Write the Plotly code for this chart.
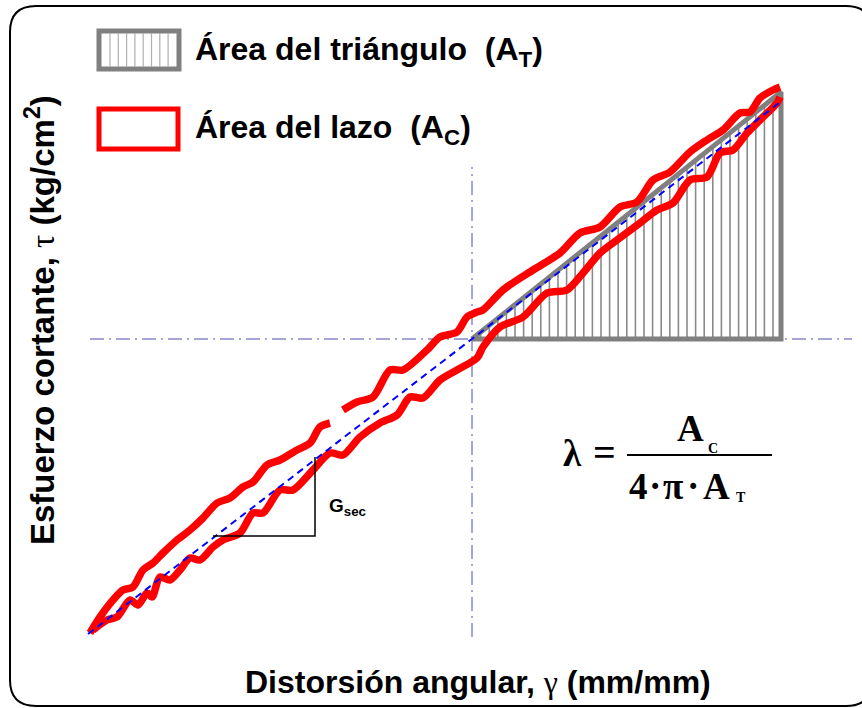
import plotly.graph_objects as go

# ---- data (units: arbitrary, origin at axes crossing) ----
upper_gamma = [-382, -372, -359, -349, -339, -329, -319, -309, -295, -282, -269, -255, -242, -229, -219,
               -205, -192, -175, -162, -152, -142, None,
               -129, -115, -99, -82, -69, -45, -32, -15, -5, 5, 11, 31, 61, 88, 108, 128, 148, 165,
               181, 198, 218, 235, 251, 268, 278, 288, 301, 308]
upper_tau = [-294, -278, -261, -251, -248, -231, -224, -214, -201, -191, -179, -164, -159, -148, -143,
             -126, -121, -111, -104, -88, -84, None,
             -71, -63, -58, -31, -31, -11, 2, 7, 22, 27, 29, 49, 69, 86, 106, 112, 132, 137,
             159, 167, 187, 199, 209, 226, 227, 241, 249, 252]
lower_gamma = [308, 305, 288, 275, 261, 248, 235, 218, 201, 185, 168, 145, 128, 111, 95, 75, 51, 28, 11, 5,
               -15, -32, -49, -62, -75, -92, -112, -129, -142, -159, -179, -192, -209, -219, -232, -249,
               -259, -272, -282, -292, -302, -312, -320, -325, -334, -342, -355, -365, -379]
lower_tau = [242, 236, 219, 206, 189, 186, 162, 159, 136, 129, 116, 99, 86, 66, 49, 46, 22, 12, -8, -19,
             -31, -41, -59, -58, -76, -84, -98, -116, -114, -131, -151, -151, -174, -174, -194, -201,
             -208, -221, -219, -231, -241, -238, -258, -254, -266, -261, -278, -281, -291]

tri_gamma = [0, 309, 309, 0]
tri_tau = [0, 247, 0, 0]
hatch_step = 8.6

secant_gamma = [-384, 307]
secant_tau = [-295, 236]

axis_v_tau = [-298, 172]
axis_h_gamma = [-382, 380]

gsec_gamma = [-259, -157, -157]
gsec_tau = [-197, -197, -118]

W, H = 862, 708
X0, Y0 = 472, 339  # pixel position of origin


def px(x):
    return x - X0


def py(y):
    return Y0 - y


fig = go.Figure()

# hatch lines inside the triangle
hx, hy = [], []
slope = tri_tau[1] / tri_gamma[1]
g = hatch_step
while g < tri_gamma[1] - 2:
    hx += [g, g, None]
    hy += [0, slope * g, None]
    g += hatch_step
fig.add_trace(go.Scatter(x=hx, y=hy, mode="lines", line=dict(color="#8a8a8a", width=1.6),
                         hoverinfo="skip", showlegend=False))

# dash-dot axes
fig.add_trace(go.Scatter(x=[0, 0], y=axis_v_tau, mode="lines",
                         line=dict(color="#4b4bb0", width=1, dash="14px,5px,2px,5px"),
                         hoverinfo="skip", showlegend=False))
fig.add_trace(go.Scatter(x=axis_h_gamma, y=[0, 0], mode="lines",
                         line=dict(color="#4b4bb0", width=1, dash="14px,5px,2px,5px"),
                         hoverinfo="skip", showlegend=False))

# triangle outline
fig.add_trace(go.Scatter(x=tri_gamma, y=tri_tau, mode="lines",
                         line=dict(color="#808080", width=5), hoverinfo="skip", showlegend=False))

# loop
fig.add_trace(go.Scatter(x=upper_gamma, y=upper_tau, mode="lines",
                         line=dict(color="#ff0000", width=7.5, shape="spline", smoothing=0.8),
                         connectgaps=False, hoverinfo="skip", showlegend=False))
fig.add_trace(go.Scatter(x=lower_gamma, y=lower_tau, mode="lines",
                         line=dict(color="#ff0000", width=7.5, shape="spline", smoothing=0.8),
                         hoverinfo="skip", showlegend=False))

# secant line
fig.add_trace(go.Scatter(x=secant_gamma, y=secant_tau, mode="lines",
                         line=dict(color="#0000ff", width=2, dash="7px,5px"),
                         hoverinfo="skip", showlegend=False))

# G_sec triangle
fig.add_trace(go.Scatter(x=gsec_gamma, y=gsec_tau, mode="lines",
                         line=dict(color="black", width=1.5), hoverinfo="skip", showlegend=False))

shapes = []
# rounded border
r = 26
x1, x2, y1, y2 = px(10), px(872), py(6), py(706)
path = (f"M {x1+r},{y1} L {x2-r},{y1} Q {x2},{y1} {x2},{y1-r} L {x2},{y2+r} Q {x2},{y2} {x2-r},{y2} "
        f"L {x1+r},{y2} Q {x1},{y2} {x1},{y2+r} L {x1},{y1-r} Q {x1},{y1} {x1+r},{y1} Z")
shapes.append(dict(type="path", path=path, xref="x", yref="y", line=dict(color="black", width=2)))

# legend box 1 (hatched gray)
shapes.append(dict(type="rect", xref="x", yref="y", x0=px(99), x1=px(179), y0=py(31), y1=py(69),
                   line=dict(color="#808080", width=5)))
for k in range(8):
    xx = px(110 + k * 8.3)
    shapes.append(dict(type="line", xref="x", yref="y", x0=xx, x1=xx, y0=py(33), y1=py(67),
                       line=dict(color="#b0b0b0", width=1.2)))
# legend box 2 (red)
shapes.append(dict(type="rect", xref="x", yref="y", x0=px(99), x1=px(178), y0=py(109), y1=py(149),
                   line=dict(color="#ff0000", width=5)))
# fraction bar
shapes.append(dict(type="line", xref="x", yref="y", x0=px(627), x1=px(772), y0=py(455), y1=py(455),
                   line=dict(color="black", width=2)))
fig.update_layout(shapes=shapes)

SANS = "Arial, Liberation Sans, sans-serif"
SERIF = "Times New Roman, Liberation Serif, serif"
ann = []


def A(x, y, text, size, family=SANS, xanchor="left", yanchor="middle", angle=0):
    ann.append(dict(x=px(x), y=py(y), xref="x", yref="y", text=text, showarrow=False,
                    xanchor=xanchor, yanchor=yanchor, textangle=angle,
                    font=dict(family=family, size=size, color="black")))


A(193, 51, "<b>Área del triángulo  (A<sub>T</sub>)</b>", 32)
A(193, 129, "<b>Área del lazo  (A<sub>C</sub>)</b>", 32)
A(478, 682, "<b>Distorsión angular, </b><span style='font-family:Liberation Serif'>γ</span><b> (mm/mm)</b>", 32,
  xanchor="center")
A(40, 320, "<b>Esfuerzo cortante, </b><span style='font-family:Liberation Serif'>τ</span><b> (kg/cm<sup>2</sup>)</b>",
  33, xanchor="center", angle=-90)
A(327, 507, "<b>G<sub>sec</sub></b>", 19)

# formula  λ = A_C / (4·π·A_T)
A(572, 453, "<b>λ</b>", 37, family=SERIF, xanchor="center")
A(604, 452, "<b>=</b>", 40, family=SERIF, xanchor="center")
A(690, 428, "<b>A</b>", 37, family=SERIF, xanchor="center")
A(713, 448, "<b>C</b>", 14, family=SERIF, xanchor="center")
A(638, 486, "<b>4</b>", 37, family=SERIF, xanchor="center")
A(655, 486, "<b>·</b>", 37, family=SERIF, xanchor="center")
A(673, 486, "<b>π</b>", 37, family=SERIF, xanchor="center")
A(693, 486, "<b>·</b>", 37, family=SERIF, xanchor="center")
A(716, 486, "<b>A</b>", 37, family=SERIF, xanchor="center")
A(741, 497, "<b>T</b>", 14, family=SERIF, xanchor="center")

fig.update_layout(annotations=ann)

fig.update_layout(
    width=W, height=H, margin=dict(l=0, r=0, t=0, b=0),
    paper_bgcolor="white", plot_bgcolor="white",
    xaxis=dict(range=[-X0, W - X0], visible=False, fixedrange=True),
    yaxis=dict(range=[Y0 - H, Y0], visible=False, fixedrange=True),
    showlegend=False,
)

fig.write_html("out.html", config={"displayModeBar": False},
               post_script="document.body.style.margin='0';document.body.style.overflow='hidden';")
